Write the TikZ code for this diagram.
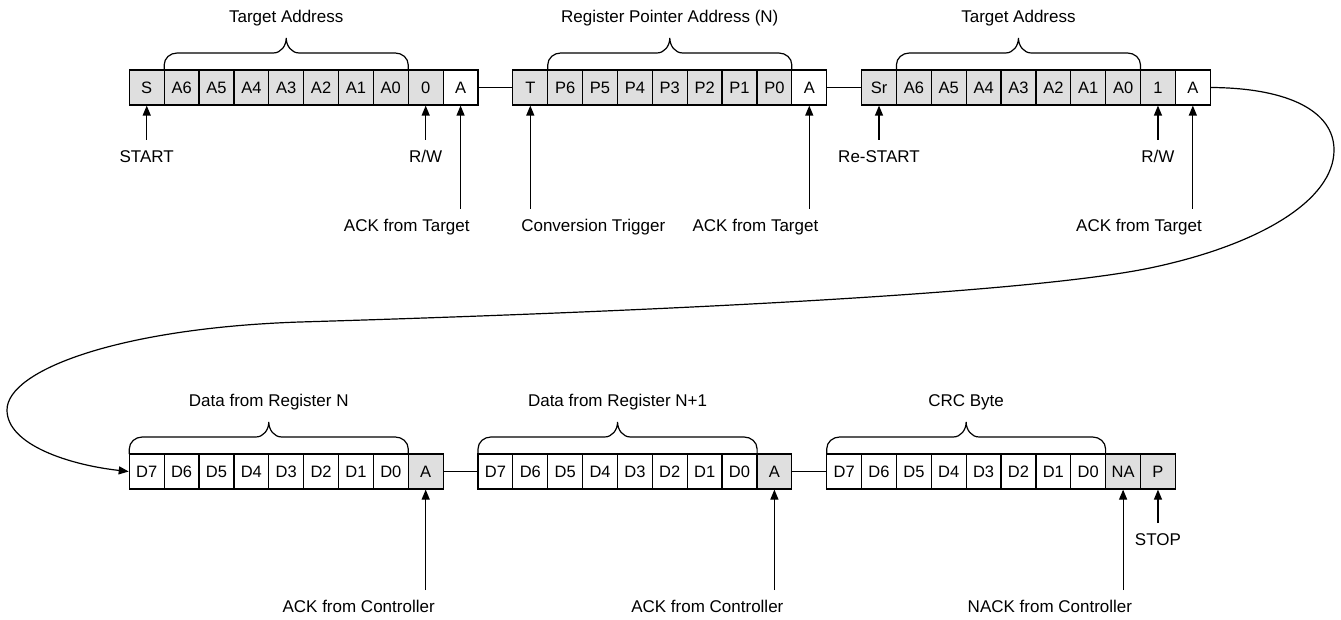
\documentclass[tikz,border=0pt]{standalone}
\usepackage{fontspec}
\setmainfont{Liberation Sans}
\usetikzlibrary{arrows.meta}
\definecolor{cellgray}{HTML}{DFDFDF}
\begin{document}
\begin{tikzpicture}[x=1pt,y=-1pt,
  line width=1.2pt,
  cell/.style={draw=black, rectangle, minimum width=34.87pt, minimum height=35pt, inner sep=0pt,
     font=\fontsize{16.5}{18}\selectfont},
  grayc/.style={fill=cellgray},
  whitec/.style={fill=white},
  lab/.style={inner sep=0pt, outer ysep=10.5pt, outer xsep=0pt, text height=12pt, text depth=3.5pt, anchor=north,
     font=\fontsize{17}{19}\selectfont},
  labr/.style={lab, anchor=north east, xshift=9pt},
  labl/.style={lab, anchor=north west, xshift=-9pt},
  ttl/.style={inner sep=0pt, font=\fontsize{17}{19}\selectfont},
  arr/.style={-{Triangle[length=10pt,width=8pt]}, line width=1.2pt},
  brc/.style={line width=1.2pt}]
\useasboundingbox (0,0) rectangle (1341,620);
\def\cw{34.87}
\def\xo{129.3}
% top row
\foreach \i/\t/\f in {0/S/grayc,1/A6/grayc,2/A5/grayc,3/A4/grayc,4/A3/grayc,5/A2/grayc,6/A1/grayc,7/A0/grayc,8/0/grayc,9/A/whitec,
  11/T/grayc,12/P6/grayc,13/P5/grayc,14/P4/grayc,15/P3/grayc,16/P2/grayc,17/P1/grayc,18/P0/grayc,19/A/whitec,
  21/Sr/grayc,22/A6/grayc,23/A5/grayc,24/A4/grayc,25/A3/grayc,26/A2/grayc,27/A1/grayc,28/A0/grayc,29/1/grayc,30/A/whitec}
  {\node[cell,\f] (t\i) at ({\xo+(\i+0.5)*\cw},87.5) {\t};}
% bottom row
\foreach \i/\t/\f in {0/D7/whitec,1/D6/whitec,2/D5/whitec,3/D4/whitec,4/D3/whitec,5/D2/whitec,6/D1/whitec,7/D0/whitec,8/A/grayc,
  10/D7/whitec,11/D6/whitec,12/D5/whitec,13/D4/whitec,14/D3/whitec,15/D2/whitec,16/D1/whitec,17/D0/whitec,18/A/grayc,
  20/D7/whitec,21/D6/whitec,22/D5/whitec,23/D4/whitec,24/D3/whitec,25/D2/whitec,26/D1/whitec,27/D0/whitec,28/NA/grayc,29/P/grayc}
  {\node[cell,\f] (b\i) at ({\xo+(\i+0.5)*\cw},471.5) {\t};}
% links between groups
\draw (t9.east) -- (t11.west);
\draw (t19.east) -- (t21.west);
\draw (b8.east) -- (b10.west);
\draw (b18.east) -- (b20.west);
% braces
\newcommand\mybrace[4]{%
  \pgfmathsetmacro\xm{(#1+#2)/2}%
  \draw[brc] (#1,#3) -- (#1,#3-5) to[out=90,in=180] (#1+13,#3-17) -- (\xm-13,#3-17)
     to[out=0,in=-90] (\xm,#3-32) to[out=-90,in=180] (\xm+13,#3-17) -- (#2-13,#3-17)
     to[out=0,in=90] (#2,#3-5) -- (#2,#3);
  \node[ttl] at (\xm,#3-52) {#4};}
\mybrace{164.17}{408.26}{70}{Target Address}
\mybrace{547.74}{791.83}{70}{Register Pointer Address (N)}
\mybrace{896.4}{1140.5}{70}{Target Address}
\mybrace{129.3}{408.26}{454}{Data from Register N}
\mybrace{478.0}{757.1}{454}{Data from Register N+1}
\mybrace{826.7}{1105.6}{454}{CRC Byte}
% top labels
\node[lab] (l0) at (t0.south |- 0,140) {START};
\node[lab] (l8) at (t8.south |- 0,140) {R/W};
\node[labr] (l9) at (t9.south |- 0,209) {ACK from Target};
\node[labl] (l11) at (t11.south |- 0,209) {Conversion Trigger};
\node[labr] (l19) at (t19.south |- 0,209) {ACK from Target};
\node[lab] (l21) at (t21.south |- 0,140) {Re-START};
\node[lab] (l29) at (t29.south |- 0,140) {R/W};
\node[labr] (l30) at (t30.south |- 0,209) {ACK from Target};
\foreach \i in {0,8,9,11,19,21,29,30} {\draw[arr] (t\i.south |- l\i.north) -- (t\i.south);}
% bottom labels
\node[labr] (m8) at (b8.south |- 0,590) {ACK from Controller};
\node[labr] (m18) at (b18.south |- 0,590) {ACK from Controller};
\node[labr] (m28) at (b28.south |- 0,590) {NACK from Controller};
\node[lab] (m29) at (b29.south |- 0,523) {STOP};
\foreach \i in {8,18,28,29} {\draw[arr] (b\i.south |- m\i.north) -- (b\i.south);}
% long return curve
\draw[arr] (t30.east) .. controls (1290,88) and (1334,112) .. (1334,150)
   .. controls (1334,200) and (1260,245) .. (1150,268)
   .. controls (1000,299) and (500,316) .. (300,322)
   .. controls (120,328) and (7,370) .. (7,410)
   .. controls (7,445) and (70,465) .. (b0.west);
\end{tikzpicture}
\end{document}
